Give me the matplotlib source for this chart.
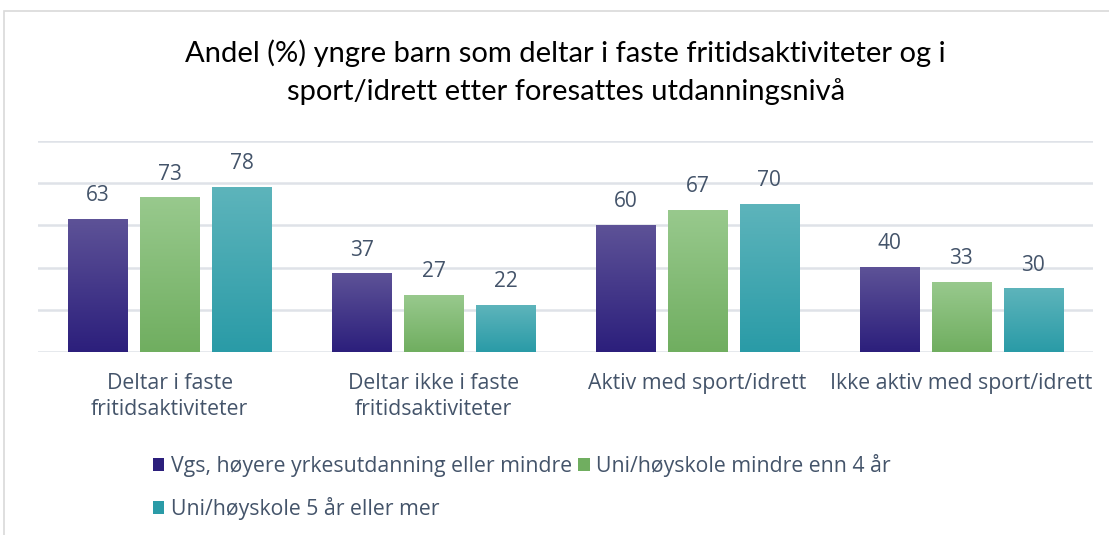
import numpy as np
import matplotlib
matplotlib.use("Agg")
from matplotlib import pyplot as plt
from matplotlib.patches import Rectangle
from matplotlib.colors import LinearSegmentedColormap

categories = ["Deltar i faste\nfritidsaktiviteter", "Deltar ikke i faste\nfritidsaktiviteter",
              "Aktiv med sport/idrett", "Ikke aktiv med sport/idrett"]
series_names = ["Vgs, høyere yrkesutdanning eller mindre",
                "Uni/høyskole mindre enn 4 år",
                "Uni/høyskole 5 år eller mer"]
vgs = [63, 37, 60, 40]
uni4 = [73, 27, 67, 33]
uni5 = [78, 22, 70, 30]
title = "Andel (%) yngre barn som deltar i faste fritidsaktiviteter og i\nsport/idrett etter foresattes utdanningsnivå"

# top colour, bottom colour of each gradient
grads = [("#5d5297", "#2c1f7c"), ("#98c98d", "#70ae60"), ("#5db4bb", "#2a9ba7")]
txt = "#44546a"
grid = "#dfe2e8"

plt.rcParams['font.family'] = ['Open Sans', 'DejaVu Sans']

fig = plt.figure(figsize=(11.09, 5.35), dpi=100)
ax = fig.add_axes([38/1109, 1-352/535, (1093-38)/1109, (352-141)/535])

# chart border
fig.patches.append(Rectangle((4/1109, -0.1), 1.2, 1-11/535+0.1, transform=fig.transFigure,
                             fill=False, edgecolor="#d9d9d9", lw=1.2))

x = np.arange(len(categories))
step = 0.273
width = 0.224
for i, vals in enumerate([vgs, uni4, uni5]):
    bars = ax.bar(x + (i-1)*step, vals, width, color=grads[i][1], label=series_names[i], zorder=2)
    cmap = LinearSegmentedColormap.from_list("g%d" % i, [grads[i][1], grads[i][0]])
    for b, v in zip(bars, vals):
        x0, w, h = b.get_x(), b.get_width(), b.get_height()
        ax.imshow(np.linspace(0, 1, 100).reshape(-1, 1), cmap=cmap, origin="lower",
                  extent=[x0, x0+w, 0, h], aspect="auto", zorder=3)
        ax.text(x0 + w/2, h + 11.2, str(v), ha="center", va="center", fontsize=15, color=txt)

ax.set_xlim(-0.5, 3.5)
ax.set_ylim(0, 100)
ax.set_yticks(np.arange(0, 101, 20))
ax.yaxis.grid(True, color=grid, lw=1.8, zorder=0)
ax.set_yticklabels([])
ax.tick_params(length=0)
for s in ax.spines.values():
    s.set_visible(False)
ax.set_xticks(x)
ax.set_xticklabels(categories, fontsize=15.3, color=txt, linespacing=1.3)
ax.tick_params(axis="x", pad=15)

fig.text(0.51, 1-72.5/535, title, ha="center", va="center", fontsize=21, family=['Lato', 'DejaVu Sans'],
         linespacing=1.5, color="black")

handles, labels = ax.get_legend_handles_labels()
order = [0, 2, 1]
fig.legend([handles[k] for k in order], [labels[k] for k in order], ncol=2,
           loc="upper left", bbox_to_anchor=(142/1109, 1-443/535), frameon=False,
           fontsize=15.3, labelcolor=txt, handlelength=0.55, handleheight=0.55,
           handletextpad=0.3, columnspacing=0.3, labelspacing=0.95, borderpad=0)

fig.savefig("out.png", dpi=100)
